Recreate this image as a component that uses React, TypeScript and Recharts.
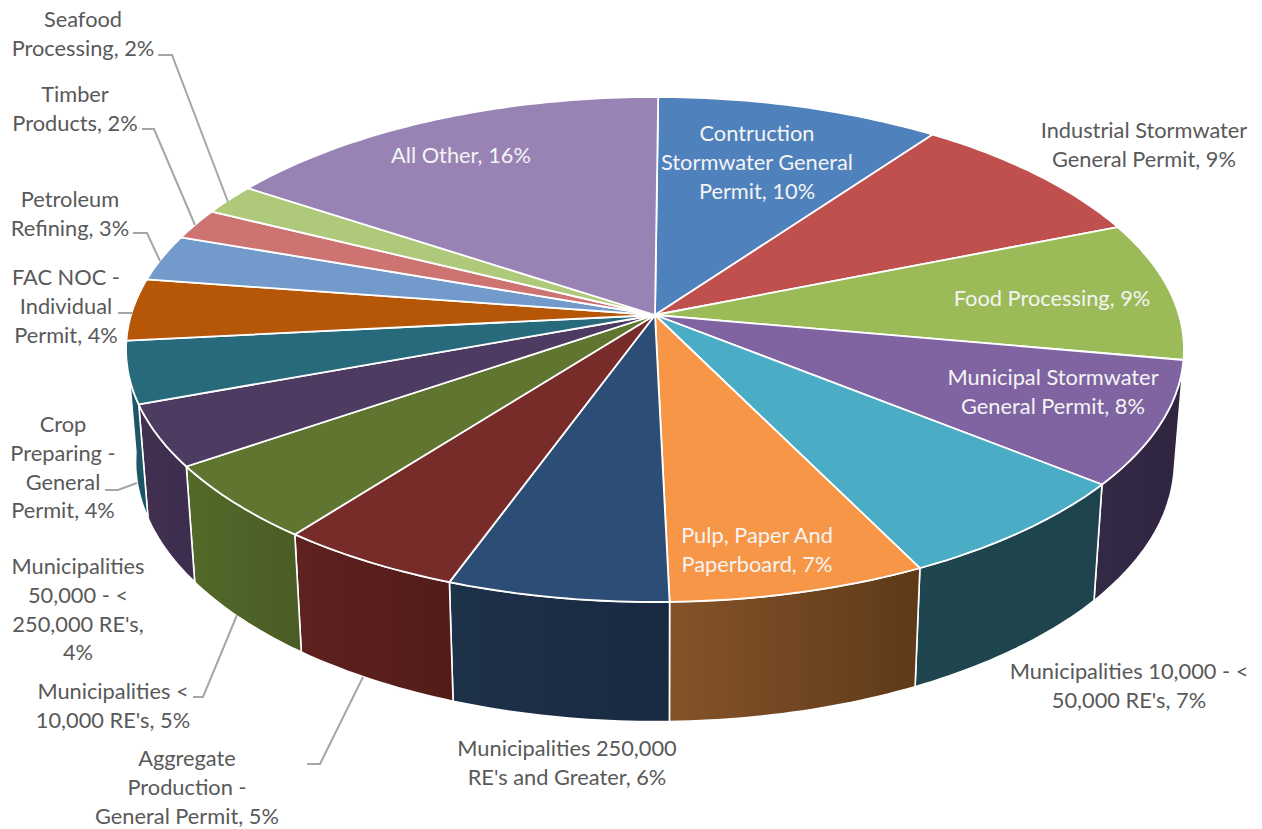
import { PieChart, Pie } from "recharts";

const categories = [
  "Contruction Stormwater General Permit",
  "Industrial Stormwater General Permit",
  "Food Processing",
  "Municipal Stormwater General Permit",
  "Municipalities 10,000 - < 50,000 RE's",
  "Pulp, Paper And Paperboard",
  "Municipalities 250,000 RE's and Greater",
  "Aggregate Production - General Permit",
  "Municipalities < 10,000 RE's",
  "Municipalities 50,000 - < 250,000 RE's",
  "Crop Preparing - General Permit",
  "FAC NOC - Individual Permit",
  "Petroleum Refining",
  "Timber Products",
  "Seafood Processing",
  "All Other",
];

const shares = [10, 9, 9, 8, 7, 7, 6, 5, 5, 4, 4, 4, 3, 2, 2, 16];

const topColors = [
  "#4f81bd", "#c0504d", "#9bbb59", "#8064a2", "#4bacc6", "#f79646", "#2c4d75", "#772c2a",
  "#5f7530", "#4d3b62", "#276a7c", "#b65708", "#729aca", "#cd7371", "#afc97a", "#9983b5",
];

// left and right shade of each slice's outer wall
const wallColors: Record<number, [string, string]> = {
  3: ["#352a45", "#2f2540"],
  4: ["#1f464f", "#1e434d"],
  5: ["#85532a", "#5e3a18"],
  6: ["#1d3149", "#182a42"],
  7: ["#5e221f", "#531c19"],
  8: ["#536a2a", "#4a5c25"],
  9: ["#42304f", "#3c2d4f"],
  10: ["#1d5a6b", "#1b5464"],
};

// wrapped label text, the value gets appended to the last line
const labelLines = [
  ["Contruction", "Stormwater General", "Permit,"],
  ["Industrial Stormwater", "General Permit,"],
  ["Food Processing,"],
  ["Municipal Stormwater", "General Permit,"],
  ["Municipalities 10,000 - <", "50,000 RE's,"],
  ["Pulp, Paper And", "Paperboard,"],
  ["Municipalities 250,000", "RE's and Greater,"],
  ["Aggregate", "Production -", "General Permit,"],
  ["Municipalities <", "10,000 RE's,"],
  ["Municipalities", "50,000 - <", "250,000 RE's,", ""],
  ["Crop", "Preparing -", "General", "Permit,"],
  ["FAC NOC -", "Individual", "Permit,"],
  ["Petroleum", "Refining,"],
  ["Timber", "Products,"],
  ["Seafood", "Processing,"],
  ["All Other,"],
];

// label centre x and first baseline y
const labelAnchors: [number, number][] = [
  [757, 141], [1144, 138], [1052, 306], [1053, 385], [1129, 679], [757, 543], [567, 756], [187, 766],
  [113, 699], [78, 574], [63, 432], [66, 285], [70, 207], [75, 102], [83, 27], [461, 163],
];

const insideLabels = [0, 2, 3, 5, 15];

const leaderLines: Record<number, string> = {
  7: "307,764 320,764 363,677",
  8: "193,697 203,697 237,615",
  10: "105,490 118,490 137,483",
  11: "118,313 133,313",
  12: "133,233 147,233 160,261",
  13: "142,129 154,129 195,225",
  14: "158,55 172,55 228,202",
};

const chartData = categories.map((name, i) => ({ name, value: shares[i], fill: topColors[i] }));

// tilt of the disc: perspective strength, vertical radius and where the base sits
const PERSPECTIVE = 0.1366;
const TILT_RADIUS = 247.8;
const BASE_CY = 426;
const BASE_X_SCALE = 0.982;
const BASE_Y_SCALE = 1.03;
const LINE_HEIGHT = 28.8;
const START_ANGLE = 89.6;

const RAD = Math.PI / 180;

function project(angle: number, cx: number, cy: number, radius: number, sx = 1, sy = 1) {
  const u = Math.cos(angle * RAD);
  const v = Math.sin(angle * RAD);
  const w = 1 + PERSPECTIVE * v;
  return [cx + (sx * radius * u) / w, cy - (sy * TILT_RADIUS * v) / w];
}

function arcPoints(start: number, end: number, fn: (a: number) => number[]) {
  const steps = Math.max(2, Math.ceil(Math.abs(end - start)));
  const pts: number[][] = [];
  for (let i = 0; i <= steps; i++) pts.push(fn(start + ((end - start) * i) / steps));
  return pts;
}

const toPath = (pts: number[][]) =>
  "M" + pts.map((p) => `${p[0].toFixed(1)},${p[1].toFixed(1)}`).join("L") + "Z";

function TopSlice(props: any) {
  const { cx, cy, outerRadius, startAngle, endAngle, fill } = props;
  const rim = arcPoints(startAngle, endAngle, (a) => project(a, cx, cy, outerRadius));
  return <path d={toPath([[cx, cy], ...rim])} fill={fill} stroke="#ffffff" strokeWidth={1.8} strokeLinejoin="round" />;
}

function WallSlice(props: any) {
  const { cx, cy, outerRadius, startAngle, endAngle, name } = props;
  const index = categories.indexOf(name);
  const shade = wallColors[index];
  if (!shade) return null;
  const top = arcPoints(startAngle, endAngle, (a) => project(a, cx, cy, outerRadius));
  const base = arcPoints(endAngle, startAngle, (a) =>
    project(a, cx, BASE_CY, outerRadius, BASE_X_SCALE, BASE_Y_SCALE)
  );
  const id = `wall-${index}`;
  return (
    <g>
      <defs>
        <linearGradient id={id} x1="0" y1="0" x2="1" y2="0">
          <stop offset="0%" stopColor={shade[0]} />
          <stop offset="100%" stopColor={shade[1]} />
        </linearGradient>
      </defs>
      <path d={toPath([...top, ...base])} fill={`url(#${id})`} stroke="#ffffff" strokeWidth={1.6} strokeLinejoin="round" />
    </g>
  );
}

function SliceLabel(props: any) {
  const index = categories.indexOf(props.name);
  const [x, y] = labelAnchors[index];
  const lines = labelLines[index];
  const inside = insideLabels.includes(index);
  const leader = leaderLines[index];
  return (
    <g>
      {leader && <polyline points={leader} fill="none" stroke="#a6a6a6" strokeWidth={2} />}
      <text
        x={x}
        y={y}
        textAnchor="middle"
        fontFamily="Lato, sans-serif"
        fontSize={21.8}
        fill={inside ? "#f4f4f4" : "#595959"}
      >
        {lines.map((line, i) => {
          const text = i === lines.length - 1 ? `${line} ${shares[index]}%`.trim() : line;
          return (
            <tspan key={i} x={x} y={y + i * LINE_HEIGHT}>
              {text}
            </tspan>
          );
        })}
      </text>
    </g>
  );
}

export default function App() {
  return (
    <div style={{ position: "absolute", left: 0, top: 0, width: 1262, height: 829, background: "#ffffff" }}>
      <PieChart width={1262} height={829} margin={{ top: 0, right: 0, bottom: 0, left: 0 }}>
        {/* outer walls first, the tilted top goes over them */}
        <Pie
          data={chartData}
          dataKey="value"
          nameKey="name"
          cx={655}
          cy={315}
          outerRadius={524}
          startAngle={START_ANGLE}
          endAngle={START_ANGLE - 360}
          shape={WallSlice}
          isAnimationActive={false}
        />
        <Pie
          data={chartData}
          dataKey="value"
          nameKey="name"
          cx={655}
          cy={315}
          outerRadius={524}
          startAngle={START_ANGLE}
          endAngle={START_ANGLE - 360}
          shape={TopSlice}
          label={SliceLabel}
          labelLine={false}
          isAnimationActive={false}
        />
      </PieChart>
    </div>
  );
}
